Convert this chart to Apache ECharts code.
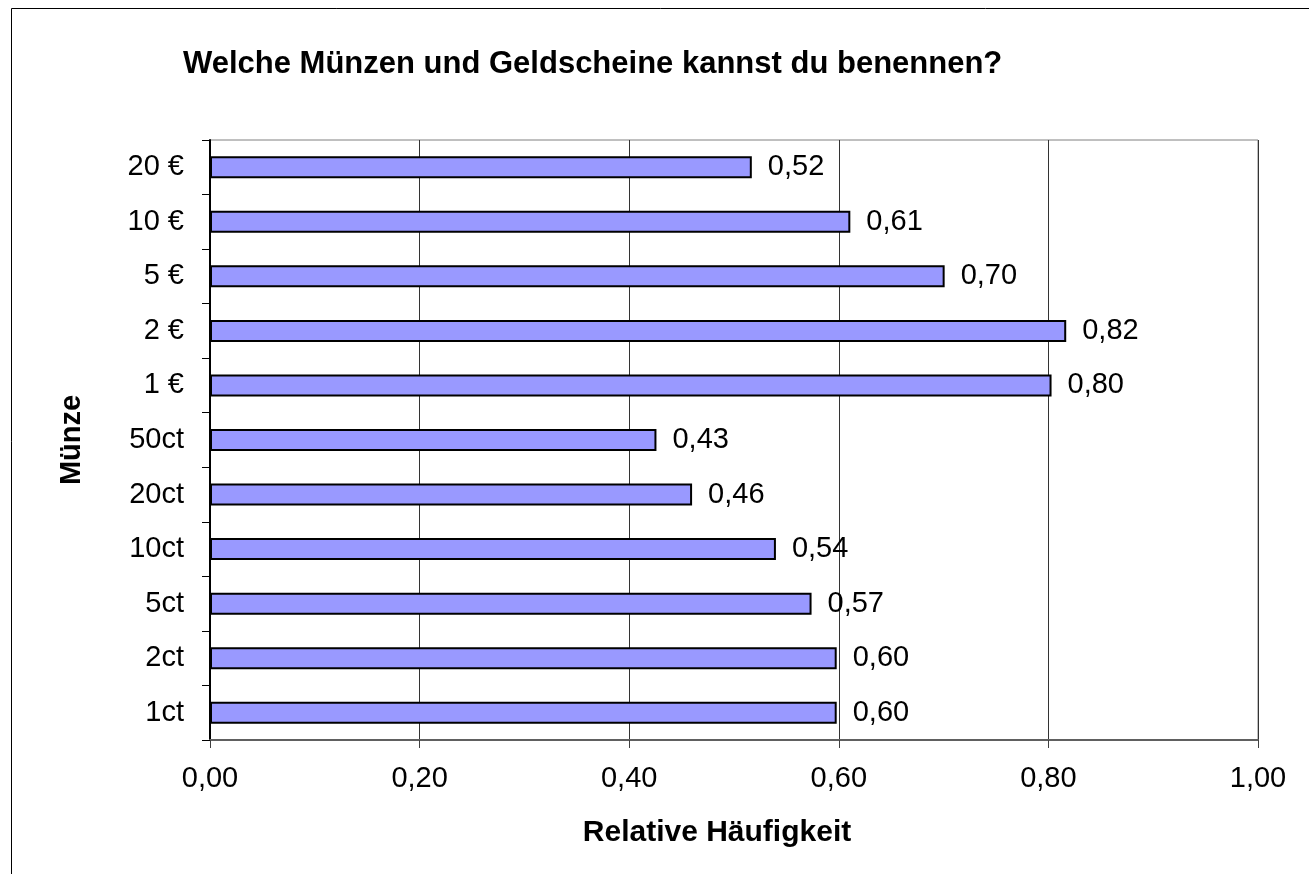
<!DOCTYPE html>
<html>
<head>
<meta charset="utf-8">
<script src="https://cdn.jsdelivr.net/npm/echarts@6/dist/echarts.min.js"></script>
<style>
  html, body { margin: 0; padding: 0; background: #fff; }
  #chart { width: 1309px; height: 874px; }
</style>
</head>
<body>
<div id="chart"></div>
<script>
// Daten: von unten (1ct) nach oben (20 €)
const categories = ['1ct', '2ct', '5ct', '10ct', '20ct', '50ct', '1 €', '2 €', '5 €', '10 €', '20 €']
const values = [0.598, 0.598, 0.574, 0.54, 0.46, 0.426, 0.803, 0.817, 0.701, 0.611, 0.517]
const xTicks = [0, 0.2, 0.4, 0.6, 0.8, 1.0]

const fmt = v => v.toFixed(2).replace('.', ',')
const font = 'Liberation Sans, Arial, sans-serif'

const chart = echarts.init(document.getElementById('chart'))

const option = {
  animation: false,
  backgroundColor: '#fff',
  textStyle: { fontFamily: font },
  graphic: [
    {
      type: 'rect',
      shape: { x: 11.5, y: 8.5, width: 1320, height: 900 },
      style: { fill: 'none', stroke: '#000', lineWidth: 1 }
    }
  ],
  title: {
    text: 'Welche Münzen und Geldscheine kannst du benennen?',
    left: 178,
    top: 44,
    textStyle: { fontFamily: font, fontSize: 31, fontWeight: 'bold', color: '#000' }
  },
  grid: {
    left: 210,
    top: 140,
    width: 1048,
    height: 600,
    show: true,
    borderColor: '#808080',
    borderWidth: 1
  },
  xAxis: {
    type: 'value',
    min: xTicks[0],
    max: xTicks[xTicks.length - 1],
    interval: 0.2,
    name: 'Relative Häufigkeit',
    nameLocation: 'middle',
    nameGap: 78,
    nameTextStyle: { fontFamily: font, fontSize: 30, fontWeight: 'bold', color: '#000', padding: [0, 34, 0, 0] },
    axisLine: { show: true, lineStyle: { color: '#606060', width: 2 } },
    axisTick: { show: true, length: 8, lineStyle: { color: '#404040' } },
    axisLabel: {
      margin: 24,
      fontSize: 29,
      color: '#000',
      formatter: v => fmt(v)
    },
    splitLine: { show: true, lineStyle: { color: '#333', width: 1 } }
  },
  yAxis: {
    type: 'category',
    data: categories,
    name: 'Münze',
    nameLocation: 'middle',
    nameGap: 124,
    nameRotate: 90,
    nameTextStyle: { fontFamily: font, fontSize: 29, fontWeight: 'bold', color: '#000' },
    axisLine: { show: true, lineStyle: { color: '#000', width: 2 } },
    axisTick: { show: true, length: 8, lineStyle: { color: '#000' } },
    axisLabel: { margin: 26, fontSize: 29, color: '#000' },
    splitLine: { show: false }
  },
  series: [
    {
      type: 'bar',
      data: values,
      barWidth: 22,
      itemStyle: { color: '#9999FF', borderColor: '#000', borderWidth: 2 },
      label: {
        show: true,
        position: 'right',
        distance: 16,
        fontSize: 29,
        color: '#000',
        formatter: p => fmt(p.value)
      }
    }
  ]
}

chart.setOption(option)
</script>
</body>
</html>
